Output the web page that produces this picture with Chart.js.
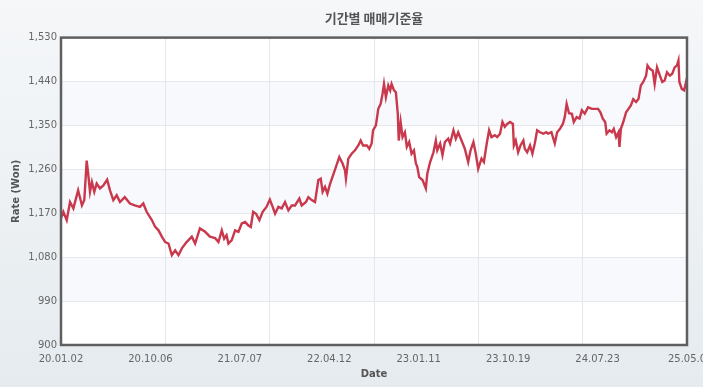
<!DOCTYPE html>
<html>
<head>
<meta charset="utf-8">
<script src="https://cdn.jsdelivr.net/npm/chart.js@4"></script>
<style>
  html, body { margin: 0; padding: 0; }
  body { width: 703px; height: 387px; overflow: hidden; }
  #wrap { width: 703px; height: 387px; }
</style>
</head>
<body>
<div id="wrap"><canvas id="rateChart"></canvas></div>
<script>
    // trading-day index (0 = 2020.01.02) and 매매기준율
    const days = [
        0, 5, 12, 19, 26, 36, 44, 49, 54, 57, 61, 65, 70, 75, 82, 89, 97, 103, 110, 117,
        124, 134, 145, 155, 166, 173, 180, 191, 198, 205, 212, 219, 226, 233, 240, 247, 254, 264, 275, 282,
        292, 303, 313, 324, 331, 338, 343, 348, 352, 359, 366, 373, 380, 387, 394, 399, 404, 410, 417, 424,
        432, 439, 445, 450, 457, 464, 471, 478, 485, 492, 501, 506, 515, 520, 527, 534, 541, 546, 550, 555,
        560, 565, 572, 578, 585, 592, 597, 599, 604, 611, 618, 625, 630, 635, 643, 648, 653, 656, 662, 667,
        672, 676, 679, 683, 688, 692, 695, 700, 704, 708, 710, 714, 718, 723, 727, 732, 737, 742, 746, 749,
        753, 760, 767, 770, 776, 783, 788, 791, 797, 802, 807, 814, 818, 825, 830, 835, 842, 849, 856, 861,
        867, 872, 877, 884, 889, 895, 900, 905, 912, 917, 923, 928, 933, 938, 944, 950, 952, 956, 961, 966,
        972, 975, 980, 986, 991, 996, 1001, 1007, 1014, 1020, 1024, 1031, 1038, 1043, 1049, 1055, 1059, 1063, 1068, 1074,
        1078, 1084, 1090, 1095, 1101, 1108, 1116, 1123, 1129, 1134, 1139, 1144, 1147, 1153, 1158, 1162, 1167, 1172, 1174, 1177,
        1182, 1188, 1193, 1198, 1203, 1209, 1214, 1219, 1224, 1230, 1233, 1238, 1244, 1248, 1253, 1259, 1264, 1269, 1274, 1280,
        1285, 1290, 1295, 1298, 1300, 1305, 1310, 1314, 1316
    ];
    const rates = [
        1160, 1173, 1156, 1193, 1180, 1217, 1186, 1197, 1278, 1252, 1214, 1234, 1214, 1231, 1221, 1227, 1239, 1217, 1197, 1207,
        1193, 1203, 1190, 1186, 1183, 1190, 1173, 1156, 1142, 1135, 1122, 1111, 1108, 1084, 1094, 1084, 1098, 1111, 1122, 1108,
        1139, 1132, 1122, 1119, 1111, 1135, 1118, 1125, 1108, 1115, 1135, 1132, 1149, 1152, 1145, 1142, 1173, 1169, 1156, 1173,
        1183, 1198, 1183, 1169, 1183, 1180, 1193, 1176, 1186, 1186, 1200, 1186, 1193, 1203, 1197, 1193, 1238, 1241, 1214, 1224,
        1210, 1228, 1248, 1265, 1285, 1272, 1258, 1241, 1282, 1292, 1299, 1309, 1319, 1309, 1309, 1302, 1313, 1340, 1350, 1384,
        1394, 1415, 1435, 1408, 1432, 1422, 1435, 1422, 1418, 1374, 1319, 1357, 1326, 1336, 1306, 1316, 1292, 1299, 1272, 1265,
        1244, 1238, 1221, 1251, 1275, 1295, 1319, 1299, 1313, 1289, 1316, 1323, 1313, 1340, 1323, 1336, 1319, 1302, 1275, 1299,
        1316, 1292, 1261, 1282, 1275, 1313, 1340, 1326, 1330, 1326, 1333, 1357, 1347, 1353, 1357, 1353, 1309, 1319, 1295, 1309,
        1319, 1302, 1295, 1309, 1292, 1313, 1340, 1336, 1333, 1336, 1333, 1336, 1313, 1336, 1343, 1353, 1367, 1394, 1375, 1374,
        1357, 1367, 1364, 1381, 1374, 1387, 1384, 1384, 1384, 1377, 1364, 1357, 1333, 1340, 1336, 1343, 1326, 1336, 1306, 1343,
        1357, 1377, 1384, 1391, 1404, 1398, 1404, 1432, 1439, 1452, 1473, 1466, 1462, 1435, 1469, 1452, 1439, 1442, 1459, 1452,
        1456, 1469, 1473, 1483, 1439, 1425, 1422, 1439, 1430
    ];
    const xTickDays = [0, 188, 376, 564, 752, 940, 1128, 1316];
    const xTickLabels = ['20.01.02', '20.10.06', '21.07.07', '22.04.12', '23.01.11', '23.10.19', '24.07.23', '25.05.0'];
    const yTicks = [900, 990, 1080, 1170, 1260, 1350, 1440, 1530];

    const points = days.map((d, i) => ({ x: d, y: rates[i] }));

    // page gradient, white plot area, alternate bands, frame
    const frame = {
        id: 'frame',
        beforeDraw(chart) {
            const c = chart.ctx, a = chart.chartArea, y = chart.scales.y;
            const g = c.createLinearGradient(0, 0, 0, chart.height);
            g.addColorStop(0, '#f5f7f9');
            g.addColorStop(1, '#e5ebef');
            c.save();
            c.fillStyle = g;
            c.fillRect(0, 0, chart.width, chart.height);
            c.fillStyle = '#ffffff';
            c.fillRect(a.left, a.top, a.right - a.left, a.bottom - a.top);
            c.fillStyle = '#f7f9fc';
            for (let i = 1; i < yTicks.length - 1; i += 2) {
                const t = y.getPixelForValue(yTicks[i + 1]);
                const b = y.getPixelForValue(yTicks[i]);
                c.fillRect(a.left, t, a.right - a.left, b - t);
            }
            c.restore();
        },
        afterDraw(chart) {
            const c = chart.ctx, a = chart.chartArea;
            c.save();
            c.strokeStyle = '#5f5f5f';
            c.lineWidth = 2.5;
            c.strokeRect(a.left, a.top, a.right - a.left, a.bottom - a.top);
            c.restore();
        }
    };

    new Chart(document.getElementById('rateChart'), {
        type: 'line',
        data: {
            datasets: [{
                label: '매매기준율',
                data: points,
                borderColor: '#c9384c',
                borderWidth: 2.4,
                pointRadius: 0,
                tension: 0,
                fill: false
            }]
        },
        options: {
            responsive: true,
            maintainAspectRatio: false,
            animation: false,
            layout: {
                padding: { left: 0, right: 16, top: 0, bottom: 0 }
            },
            plugins: {
                legend: { display: false },
                tooltip: { enabled: false },
                title: {
                    display: true,
                    text: '기간별 매매기준율',
                    fullSize: false,
                    color: '#555555',
                    font: { family: 'Noto Sans CJK KR', size: 13, weight: 'bold' },
                    padding: { top: 10, bottom: 12 }
                }
            },
            scales: {
                x: {
                    type: 'linear',
                    min: 0,
                    max: 1316,
                    afterBuildTicks: (scale) => {
                        scale.ticks = xTickDays.map(v => ({ value: v }));
                    },
                    afterFit: (scale) => {
                        scale.height = 42;
                        scale.paddingLeft = 0;
                        scale.paddingRight = 0;
                    },
                    ticks: {
                        autoSkip: false,
                        maxRotation: 0,
                        padding: 0,
                        color: '#666666',
                        font: { family: 'DejaVu Sans', size: 10 },
                        callback: (v) => xTickLabels[xTickDays.indexOf(v)]
                    },
                    grid: { display: false },
                    border: { display: false },
                    title: {
                        display: true,
                        text: 'Date',
                        color: '#555555',
                        font: { family: 'DejaVu Sans', size: 10, weight: 'bold' },
                        padding: { top: 2, bottom: 7 }
                    }
                },
                xg: {
                    type: 'linear',
                    position: 'bottom',
                    min: 0,
                    max: 6,
                    afterFit: (scale) => { scale.height = 0; },
                    ticks: { display: false, stepSize: 1 },
                    grid: { color: '#e4e8ed', lineWidth: 1, drawTicks: false },
                    border: { display: false }
                },
                y: {
                    min: 900,
                    max: 1530,
                    afterBuildTicks: (scale) => {
                        scale.ticks = yTicks.map(v => ({ value: v }));
                    },
                    afterFit: (scale) => { scale.width = 61; },
                    ticks: {
                        padding: 4,
                        color: '#666666',
                        font: { family: 'DejaVu Sans', size: 10 },
                        callback: (v) => v.toLocaleString('en-US')
                    },
                    grid: { color: '#e4e8ed', lineWidth: 1, drawTicks: false },
                    border: { display: false },
                    title: {
                        display: true,
                        text: 'Rate (Won)',
                        color: '#555555',
                        font: { family: 'DejaVu Sans', size: 10, weight: 'bold' },
                        padding: { top: 10, bottom: 0 }
                    }
                }
            }
        },
        plugins: [frame]
    });
</script>
</body>
</html>
